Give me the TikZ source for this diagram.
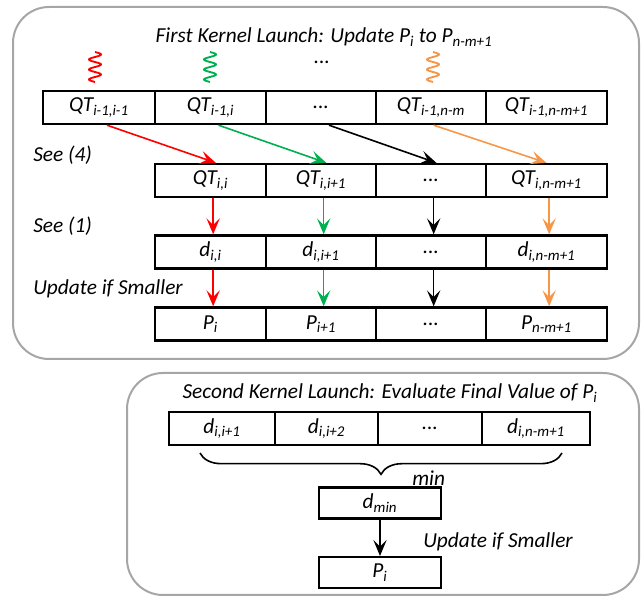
\documentclass[tikz,border=0pt]{standalone}
\usepackage{fontspec}
\setmainfont{Carlito}
\usetikzlibrary{arrows.meta,decorations.pathreplacing}

\definecolor{qred}{RGB}{255,0,0}
\definecolor{qgreen}{RGB}{0,176,80}
\definecolor{qorange}{RGB}{247,150,70}
\definecolor{qgray}{RGB}{166,166,166}

\begin{document}
\begin{tikzpicture}[x=0.75pt,y=-0.75pt,font=\fontsize{16}{19}\selectfont\itshape,
  cell/.style={draw,line width=1.8pt,minimum width=0.75pt*#1,minimum height=24.75pt,inner sep=0pt},
  lbl/.style={anchor=west,inner sep=0pt},
  flow/.style={line width=1.2pt,-{Stealth[length=12pt,width=10pt,inset=5pt]}},
  wave/.style={line width=1.4pt}]
\useasboundingbox (0,0) rectangle (644,598);

% kernel frames
\draw[qgray,line width=1.5pt,rounded corners=27pt] (13,7) rectangle (639,359);
\draw[qgray,line width=1.5pt,rounded corners=27pt] (127,373) rectangle (639,595);

\node (ti1) at (324,37) {First Kernel Launch: Update P\textsubscript{i} to P\textsubscript{n-m+1}};

% threads
\draw[wave,qred] plot[domain=0:30,samples=60,smooth] ({95+6*sin(\x*36)},{52+\x});
\draw[wave,qgreen] plot[domain=0:30,samples=60,smooth] ({210+6*sin(\x*36)},{52+\x});
\node (dt) at (322,62) {...};
\draw[wave,qorange] plot[domain=0:30,samples=60,smooth] ({433+6*sin(\x*36)},{52+\x});

% QT of row i-1
\node[cell=112] (q1) at (99,107.5)    {QT\textsubscript{i-1,i-1}};
\node[cell=111] (q2) at (210.5,107.5) {QT\textsubscript{i-1,i}};
\node[cell=110] (q3) at (321,107.5)   {...};
\node[cell=110] (q4) at (431,107.5)   {QT\textsubscript{i-1,n-m}};
\node[cell=121] (q5) at (546.5,107.5) {QT\textsubscript{i-1,n-m+1}};

% QT of row i
\node[cell=111] (t1) at (210.5,180.5) {QT\textsubscript{i,i}};
\node[cell=110] (t2) at (321,180.5)   {QT\textsubscript{i,i+1}};
\node[cell=110] (t3) at (431,180.5)   {...};
\node[cell=121] (t4) at (546.5,180.5) {QT\textsubscript{i,n-m+1}};

% distances
\node[cell=111] (d1) at (210.5,252) {d\textsubscript{i,i}};
\node[cell=110] (d2) at (321,252)   {d\textsubscript{i,i+1}};
\node[cell=110] (d3) at (431,252)   {...};
\node[cell=121] (d4) at (546.5,252) {d\textsubscript{i,n-m+1}};

% profile
\node[cell=111] (p1) at (210.5,324) {P\textsubscript{i}};
\node[cell=110] (p2) at (321,324)   {P\textsubscript{i+1}};
\node[cell=110] (p3) at (431,324)   {...};
\node[cell=121] (p4) at (546.5,324) {P\textsubscript{n-m+1}};

\node[lbl] (s4) at (33,155) {See (4)};
\node[lbl] (s1) at (33,226) {See (1)};
\node[lbl] (up) at (33,289) {Update if Smaller};

\draw[flow,qred]    ([xshift=6pt]q1.south) -- ([xshift=4pt]t1.north);
\draw[flow,qgreen]  ([xshift=6pt]q2.south) -- ([xshift=4pt]t2.north);
\draw[flow]         ([xshift=6pt]q3.south) -- ([xshift=4pt]t3.north);
\draw[flow,qorange] ([xshift=2pt]q4.south) -- ([xshift=0pt]t4.north);

\draw[flow,qred]    ([xshift=2pt]t1.south) -- ([xshift=2pt]d1.north);
\draw[flow,qgreen]  ([xshift=2pt]t2.south) -- ([xshift=2pt]d2.north);
\draw[flow]         ([xshift=2pt]t3.south) -- ([xshift=2pt]d3.north);
\draw[flow,qorange] ([xshift=2pt]t4.south) -- ([xshift=2pt]d4.north);

\draw[flow,qred]    ([xshift=2pt]d1.south) -- ([xshift=2pt]p1.north);
\draw[flow,qgreen]  ([xshift=2pt]d2.south) -- ([xshift=2pt]p2.north);
\draw[flow]         ([xshift=2pt]d3.south) -- ([xshift=2pt]p3.north);
\draw[flow,qorange] ([xshift=2pt]d4.south) -- ([xshift=2pt]p4.north);

% second launch
\node (ti2) at (390,393) {Second Kernel Launch: Evaluate Final Value of P\textsubscript{i}};

\node[cell=106] (e1) at (222,428.5)   {d\textsubscript{i,i+1}};
\node[cell=103] (e2) at (326.5,428.5) {d\textsubscript{i,i+2}};
\node[cell=104] (e3) at (430,428.5)   {...};
\node[cell=108] (e4) at (536,428.5)   {d\textsubscript{i,n-m+1}};

\coordinate (bl) at (200,453);
\coordinate (br) at (562,453);
\draw[line width=1.2pt,decorate,decoration={brace,mirror,amplitude=16pt}] (bl) -- (br);
\node[lbl] (mn) at (412,478) {min};

\node[cell=122,minimum height=23pt] (dm) at (380,503)   {d\textsubscript{min}};
\node[cell=122,minimum height=23pt] (pf) at (380,572.5) {P\textsubscript{i}};
\draw[flow] (dm) -- (pf);
\node[lbl] (up2) at (423,542) {Update if Smaller};
\end{tikzpicture}
\end{document}
